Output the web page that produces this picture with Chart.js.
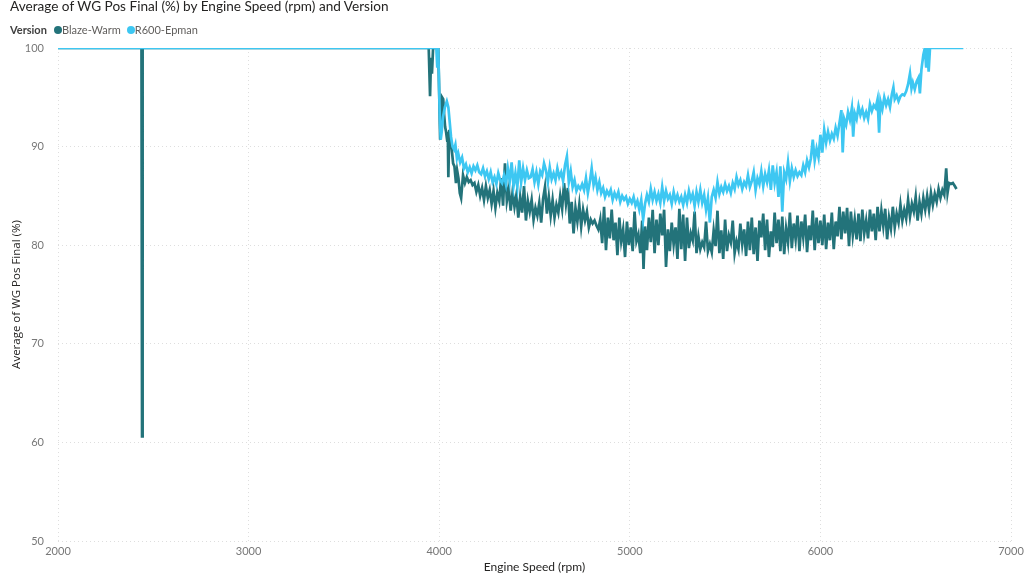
<!DOCTYPE html>
<html><head><meta charset="utf-8">
<script src="https://cdn.jsdelivr.net/npm/chart.js@4/dist/chart.umd.min.js"></script>
<style>
html,body{margin:0;padding:0;background:#fff;}
#wrap{position:relative;width:1024px;height:576px;overflow:hidden;font-family:Lato,"Open Sans","DejaVu Sans",sans-serif;}
#title{position:absolute;left:10px;top:-2px;font-size:13.6px;color:#252423;white-space:nowrap;}
#legend{position:absolute;left:10px;top:23px;font-size:11px;color:#605e5c;white-space:nowrap;display:flex;align-items:center;}
#legend b{color:#404040;margin-right:7px;}
.dot{display:inline-block;width:8px;height:8px;border-radius:50%;margin-right:0px;}
.item{display:flex;align-items:center;margin-right:6px;}
canvas{position:absolute;left:0;top:0;}
</style></head>
<body><div id="wrap">
<canvas id="c" width="1024" height="576"></canvas>
<div id="title">Average of WG Pos Final (%) by Engine Speed (rpm) and Version</div>
<div id="legend"><b>Version</b></div>
</div>
<script>
const seriesNames = ["Blaze-Warm", "R600-Epman"];
const seriesColors = ["#23737a", "#3dc7f2"];
const xTicks = [2000, 3000, 4000, 5000, 6000, 7000];
const yTicks = [50, 60, 70, 80, 90, 100];

// [engine speed rpm, average WG Pos Final %]
const blazeWarm = [
[2000,100],[2438,100],[2441,60.6],[2444,100],[3945,100],[3952,95.1],[3957,99],[3962,97.4],[3968,100],[3995,100],
[4005,90.7],[4015,95],[4021,94.8],[4026,93.2],[4031,92],[4036,91.5],[4042,90.6],[4045,91.5],[4048,86.9],[4053,91.7],
[4060,90.6],[4066,89.7],[4073,88.3],[4080,88],[4088,86.3],[4094,87.6],[4101,86.8],[4108,85.3],[4115,84.8],
[4125,87.1],[4135,86.3],[4145,86.9],[4155,86.4],[4165,86.6],[4175,86.1],[4185,86.3],[4195,85.4],[4205,86.1],[4215,85],
[4225,85.8],[4235,84.6],[4245,86],[4255,84.8],[4265,85.6],[4275,84.2],[4285,85.5],[4295,83.8],[4305,85.3],[4315,84.5],
[4325,86.8],[4335,84],[4345,88.3],[4355,84.5],[4365,85.7],[4375,83.5],[4385,85.4],[4395,83.9],[4405,85.1],[4415,82.8],
[4425,84.9],[4435,83.3],[4445,86],[4455,82.5],[4465,84.5],[4475,83.4],[4485,84.6],[4495,82.6],[4505,83.8],[4515,83],
[4525,84.3],[4535,82.3],[4545,84.7],[4555,85.9],[4565,83.2],[4575,84.9],[4585,83],[4595,84.6],[4605,82.8],[4615,84.1],
[4625,83.3],[4635,85],[4645,83.7],[4655,86.3],[4665,84.2],[4675,85.8],[4685,82.2],[4695,84.4],[4705,81.2],[4715,83.8],
[4725,82.4],[4735,84.1],[4745,81.9],[4755,83.6],[4765,82.5],[4775,83.4],[4785,81.8],[4795,82.6],[4805,82.2],[4815,82.5],
[4825,82],[4835,81.6],[4845,82.6],[4855,80.2],[4865,83.9],[4875,79.5],[4885,82.8],[4895,80.7],[4905,83.6],[4915,80.5],
[4925,82.3],[4935,79],[4945,82.8],[4955,80.4],[4965,81.6],[4975,78.8],[4985,82.4],[4995,80],[5005,81.8],[5015,79.4],
[5025,83.4],[5035,80.4],[5045,81.1],[5055,79.2],[5065,82.5],[5072,77.6],[5080,81.9],[5090,79.5],[5100,82.8],[5110,80.3],
[5120,83.6],[5130,79.2],[5140,82.6],[5150,80],[5160,83.2],[5170,81],[5180,83.6],[5190,77.8],[5200,81.6],[5210,79.4],
[5220,82.3],[5230,80.1],[5240,81.8],[5250,78.6],[5260,83.7],[5270,79.6],[5280,83.1],[5290,78.4],[5300,82.8],[5310,79.7],
[5320,81.2],[5330,80.5],[5340,83.4],[5350,79.2],[5360,80.9],[5370,79.6],[5380,80.3],[5390,79.8],[5400,82.4],[5410,79.4],
[5420,80.1],[5430,79.3],[5440,81.5],[5450,79.9],[5460,83.5],[5470,79.2],[5480,81.5],[5490,78.6],[5500,82.6],[5510,79.4],
[5520,81],[5530,80.3],[5540,82.5],[5550,79.2],[5560,80.4],[5570,79.6],[5580,82.2],[5590,80.1],[5600,81.6],[5610,78.9],
[5620,82.4],[5630,79.5],[5640,82.8],[5650,79.1],[5660,81.8],[5670,78.4],[5680,82.5],[5690,80.8],[5700,83.2],[5710,79.5],
[5720,82.6],[5730,78.8],[5740,81.4],[5750,79.8],[5760,83.3],[5770,80.2],[5780,82.6],[5790,79.4],[5800,82.9],[5810,79.1],
[5820,81.7],[5830,80.3],[5840,83.3],[5850,79.7],[5860,82.2],[5870,80.6],[5880,83],[5890,79.4],[5900,82.4],[5910,80.8],
[5920,83.1],[5930,79.3],[5940,82],[5950,80.5],[5960,83.5],[5970,79.5],[5980,82.8],[5990,80.2],[6000,82.5],[6010,80],
[6020,83.1],[6030,79.6],[6040,82.3],[6050,80.5],[6060,83.3],[6070,79.6],[6080,82.4],[6090,80.9],[6100,83.9],[6110,80.6],
[6120,83.4],[6130,81.2],[6140,83.8],[6150,79.9],[6160,83.4],[6170,81],[6180,82.6],[6190,80.6],[6200,83.2],[6210,80.4],
[6220,83.6],[6230,81.2],[6240,82.5],[6250,80.7],[6260,83.6],[6270,81.4],[6280,83.2],[6290,80.5],[6300,83.9],[6310,81.4],
[6320,83.5],[6330,81.9],[6340,83.7],[6350,80.6],[6360,82.8],[6370,81.7],[6380,83.9],[6390,81.8],[6400,83.2],[6410,82.3],
[6420,84.1],[6430,82.5],[6440,83.6],[6450,82.7],[6460,84.6],[6470,82.9],[6480,84.2],[6490,83.4],[6500,84.9],[6510,82.5],
[6520,84.4],[6530,83.2],[6540,84.8],[6550,83.6],[6560,85],[6570,83.6],[6580,85.3],[6590,84.1],[6600,85.2],[6610,84.4],
[6620,85.7],[6630,84.8],[6640,85.6],[6650,85.1],[6660,87.8],[6667,85.3],[6675,86.3],[6685,86.2],[6695,86.3],[6705,86],[6714,85.7]
];

const r600Epman = [
[2000,100],[3985,100],[3990,98],[3995,100],[4003,93],[4008,90.7],[4013,91.5],[4020,93],[4030,94],[4040,94.6],
[4048,94],[4055,92.5],[4062,91],[4070,90],[4078,89.7],[4085,90.2],[4093,88.8],[4100,89.3],[4110,88.4],[4120,88.9],
[4130,87.8],[4140,88.2],[4150,87.4],[4160,87.9],[4170,87.3],[4180,88],[4190,87.6],[4200,88.1],[4210,87.4],[4220,87.2],
[4230,87.8],[4240,87],[4250,87.5],[4260,86.7],[4270,87.4],[4280,86.4],[4290,86.9],[4300,86.2],[4310,87.3],[4320,86.6],
[4330,86.3],[4340,87.1],[4350,86.2],[4360,87.8],[4370,86.5],[4380,88.4],[4390,86],[4400,87.3],[4410,85.9],[4420,88.6],
[4430,86.4],[4440,87.8],[4450,86.6],[4460,87.6],[4470,86.8],[4480,86.9],[4490,87.7],[4500,86.4],[4510,87.4],[4520,86.2],
[4530,87.5],[4540,87.1],[4550,88.3],[4560,87.6],[4570,86.4],[4580,87.9],[4590,86.7],[4600,87.3],[4610,86.6],[4620,87.8],
[4630,86.9],[4640,87.4],[4650,86.5],[4660,88.1],[4670,89],[4680,86.4],[4690,87.5],[4700,85.9],[4710,86.6],[4720,85.5],
[4730,86],[4740,85.7],[4750,86.2],[4760,85.6],[4770,86.8],[4780,85.3],[4790,86.4],[4800,87.8],[4810,86.1],[4820,86.9],
[4830,85.6],[4840,86.4],[4850,85.3],[4860,85.8],[4870,84.9],[4880,85.5],[4890,85.1],[4900,85.6],[4910,84.6],[4920,85.3],
[4930,84.8],[4940,85.4],[4950,84.4],[4960,85],[4970,84.6],[4980,84.9],[4990,84.2],[5000,84.7],[5010,84.3],[5020,84.9],
[5030,84],[5040,84.5],[5050,83.6],[5060,84.6],[5070,82.6],[5080,84.2],[5090,85.1],[5100,84.4],[5110,85.7],[5120,84.6],
[5130,85.4],[5140,84.5],[5150,85.2],[5160,84.3],[5170,85.9],[5180,84.5],[5190,85.5],[5200,84.7],[5210,85.1],[5220,84.2],
[5230,85.4],[5240,84.5],[5250,85.1],[5260,84.4],[5270,84.9],[5280,84.1],[5290,85.1],[5300,84.3],[5310,85.5],[5320,84.6],
[5330,85.2],[5340,84],[5350,85.4],[5360,84.4],[5370,85.6],[5380,84.3],[5390,85.1],[5400,83.6],[5410,84.8],[5420,82.3],
[5430,84.9],[5440,85.6],[5450,84.8],[5460,86.4],[5470,85.2],[5480,85.9],[5490,85.4],[5500,86.2],[5510,85.5],[5520,86],
[5530,85.3],[5540,86.3],[5550,85.7],[5560,86.9],[5570,86.1],[5580,86.6],[5590,85.7],[5600,86.4],[5610,86],[5620,87.1],
[5630,85.9],[5640,86.5],[5650,87.4],[5660,85.6],[5670,86.8],[5680,86.2],[5690,87.5],[5700,86],[5710,87.2],[5720,86.4],
[5730,87.6],[5740,85.6],[5750,88.1],[5760,86.3],[5770,87.4],[5780,84.9],[5790,88],[5800,83.4],[5810,87.4],[5820,86.7],
[5830,88.4],[5840,86.5],[5850,87.8],[5860,86.9],[5870,87.6],[5880,87],[5890,87.4],[5900,87.1],[5910,88.1],[5920,87.4],
[5930,88.6],[5940,87.9],[5950,88.8],[5960,90.7],[5970,88.6],[5980,89.8],[5990,88.9],[6000,91.2],[6010,89.4],[6020,91.7],
[6030,90.4],[6040,91.5],[6050,90.6],[6060,91.3],[6070,90.8],[6080,91.9],[6090,91.1],[6100,92.4],[6110,93.7],[6117,89.4],
[6125,92.8],[6135,92.2],[6145,93.5],[6155,92.7],[6165,93.9],[6172,91],[6180,93.4],[6190,92.8],[6200,94.1],[6210,93.2],
[6220,93.8],[6230,92.9],[6240,93.5],[6250,92.8],[6260,94.3],[6270,93.6],[6280,94.2],[6290,93.9],[6300,94.8],[6308,91.4],
[6315,94.6],[6325,93.8],[6335,95],[6345,94.2],[6355,94.8],[6365,94],[6375,95.3],[6383,96],[6390,94.8],[6400,95.2],
[6410,94.6],[6420,95.1],[6430,95.3],[6440,95.2],[6450,95.6],[6460,96.3],[6470,97.4],[6478,95.9],[6485,96.5],[6495,95.8],
[6505,96.6],[6515,97],[6522,95.4],[6530,97.8],[6540,99.3],[6548,100],[6555,98],[6562,100],[6568,97.6],[6575,100],[6750,100]
];

const seriesData = [blazeWarm, r600Epman];

const legend = document.getElementById('legend');
seriesNames.forEach((n, i) => {
  const s = document.createElement('span'); s.className = 'item';
  s.innerHTML = '<span class="dot" style="background:' + seriesColors[i] + '"></span>' + n;
  legend.appendChild(s);
});

const datasets = seriesNames.map((n, i) => ({
  label: n,
  data: seriesData[i].map(p => ({x: p[0], y: p[1]})),
  borderColor: seriesColors[i],
  backgroundColor: seriesColors[i],
  borderWidth: 2.7,
  pointRadius: 0,
  tension: 0,
  fill: false,
  order: seriesNames.length - i
}));

const tickFont = 'Lato,"Open Sans",sans-serif';
new Chart(document.getElementById('c'), {
  type: 'line',
  data: {datasets},
  options: {
    responsive: false,
    animation: false,
    layout: {padding: {top: 48, right: 13, bottom: 0, left: 0}},
    plugins: {legend: {display: false}, tooltip: {enabled: false}, title: {display: false}},
    scales: {
      x: {
        type: 'linear', min: xTicks[0], max: xTicks[xTicks.length - 1],
        afterBuildTicks: s => { s.ticks = xTicks.map(v => ({value: v})); },
        afterFit: s => { s.height = 35; s.paddingRight = 0; s.paddingLeft = 0; },
        grid: {color: '#dedede', drawTicks: false, lineWidth: 1},
        border: {display: false, dash: [1, 3]},
        ticks: {color: '#777', font: {family: tickFont, size: 11}, padding: 4, maxRotation: 0, callback: v => String(v)},
        title: {display: true, text: 'Engine Speed (rpm)', color: '#252423', font: {family: tickFont, size: 12}, padding: {top: 0, bottom: 2}}
      },
      y: {
        type: 'linear', min: yTicks[0], max: yTicks[yTicks.length - 1],
        afterBuildTicks: s => { s.ticks = yTicks.map(v => ({value: v})); },
        afterFit: s => { s.width = 58; },
        grid: {color: '#dedede', drawTicks: false, lineWidth: 1},
        border: {display: false, dash: [1, 3]},
        ticks: {color: '#777', font: {family: tickFont, size: 11}, padding: 14},
        title: {display: true, text: 'Average of WG Pos Final (%)', color: '#252423', font: {family: '"Open Sans",sans-serif', size: 11.5}, padding: {top: 10, bottom: 0}}
      }
    }
  }
});
</script>
</body></html>
